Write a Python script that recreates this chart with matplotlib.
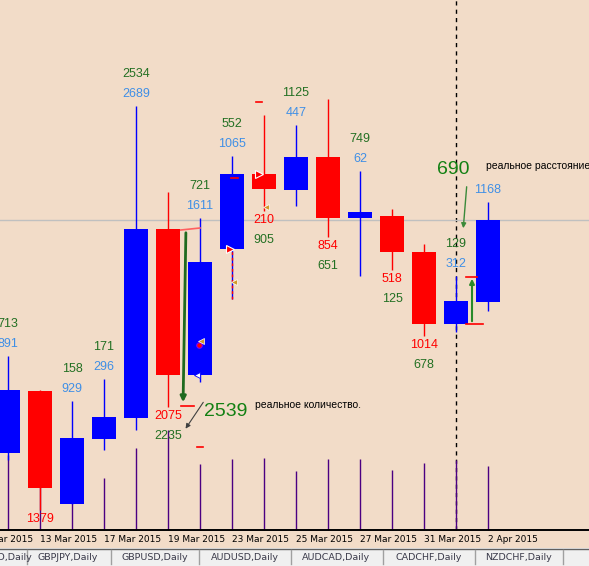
import matplotlib
matplotlib.use("Agg")
import matplotlib.pyplot as plt

# chart data (price in chart units, higher = up)
opens  = [113, 175, 62, 127, 148, 337, 191, 317, 392, 376, 409, 348, 350, 314, 242, 264]
highs  = [210, 176, 165, 187, 460, 374, 348, 410, 451, 441, 467, 395, 357, 322, 290, 364]
lows   = [106, 56, 62, 116, 136, 159, 184, 267, 355, 360, 329, 290, 296, 230, 234, 255]
closes = [176, 78, 128, 149, 337, 191, 304, 392, 377, 409, 348, 354, 314, 242, 265, 346]
volumes = [75, 63, 59, 52, 82, 100, 66, 71, 72, 59, 71, 71, 60, 67, 70, 64]

# numbers printed by the indicator
top_green = [713, None, 158, 171, 2534, None, 721, 552, None, 1125, None, 749, None, None, 129, None]
top_blue  = [891, None, 929, 296, 2689, None, 1611, 1065, None, 447, None, 62, None, None, 312, 1168]
bot_red   = [None, 1379, None, None, None, 2075, None, None, 210, None, 854, None, 518, 1014, None, None]
bot_green = [None, None, None, None, None, 2235, None, None, 905, None, 651, None, 125, 678, None, None]

tick_pos = [-1, 1, 3, 5, 7, 9, 11, 13, 15]
tick_labels = ["11 Mar 2015", "13 Mar 2015", "17 Mar 2015", "19 Mar 2015", "23 Mar 2015",
               "25 Mar 2015", "27 Mar 2015", "31 Mar 2015", "2 Apr 2015"]
tabs = ["EURUSD,Daily", "GBPJPY,Daily", "GBPUSD,Daily", "AUDUSD,Daily",
        "AUDCAD,Daily", "CADCHF,Daily", "NZDCHF,Daily"]

BG = "#F2DCC8"
GREEN_TXT = "#237023"
BLUE_TXT = "#3f8fe6"
RED = "#ff0000"
BLUE = "#0000ff"
VOL = "#4b0082"

fig = plt.figure(figsize=(5.89, 5.66), dpi=100)
fig.patch.set_facecolor(BG)

# volume on its own scale, zero sitting on the time axis, kept behind the candles
axv = fig.add_axes([0, 0, 1, 1])
axv.set_xlim(-0.25, 18.156)
axv.set_ylim(-36, 530)
axv.axis("off")

ax = fig.add_axes([0, 0, 1, 1])
ax.patch.set_visible(False)
ax.set_xlim(-0.25, 18.156)
ax.set_ylim(0, 566)
ax.axis("off")

x = list(range(len(opens)))

# grid line, vertical dashed line (behind volume), time axis
axv.vlines(14, 0, 530, color="black", lw=1, linestyles=(0, (3, 3)), zorder=1)
axv.vlines(x, 0, volumes, color=VOL, lw=1, zorder=2)
ax.axhline(346, color="#c0c0c0", lw=1, zorder=1)
ax.axhline(36, color="black", lw=1.4, zorder=6)

for i in x:
    o, h, l, c = opens[i], highs[i], lows[i], closes[i]
    col = BLUE if c >= o else RED
    ax.vlines(i, l, h, color=col, lw=1, zorder=3)
    ax.bar(i, abs(c - o), bottom=min(o, c), width=0.75, color=col, lw=0, zorder=4)

lab = dict(fontsize=9, family="Liberation Sans", ha="center", va="center", zorder=7)
for i in x:
    if top_green[i] is not None:
        ax.text(i, highs[i] + 32, str(top_green[i]), color=GREEN_TXT, **lab)
    if top_blue[i] is not None:
        ax.text(i, highs[i] + 12, str(top_blue[i]), color=BLUE_TXT, **lab)
    if bot_red[i] is not None:
        ax.text(i, lows[i] - 9, str(bot_red[i]), color=RED, **lab)
    if bot_green[i] is not None:
        ax.text(i, lows[i] - 29, str(bot_green[i]), color=GREEN_TXT, **lab)

for p, t in zip(tick_pos, tick_labels):
    ax.text(p, 26, t, fontsize=6.5, family="DejaVu Sans", ha="left", va="center", color="black")

# manual annotations drawn on the chart
ax.annotate("", xy=(5.47, 161), xytext=(5.56, 336),
            arrowprops=dict(arrowstyle="-|>", color="#1f6a1f", lw=2, mutation_scale=8), zorder=8)
ax.plot([5.4, 5.8], [160, 160], color=RED, lw=1.2, zorder=8)
ax.plot([5.4, 6.0], [336, 338], color="#ff6060", lw=1.2, zorder=8)
ax.text(6.8, 154, "2539", fontsize=14, color="#138013", family="Liberation Sans",
        ha="center", va="center", zorder=8)
ax.annotate("", xy=(5.5, 135), xytext=(6.15, 166),
            arrowprops=dict(arrowstyle="-|>", color="#404040", lw=0.8, mutation_scale=7), zorder=8)
ax.text(7.72, 161, "реальное количество.", fontsize=7.5, color="black",
        family="Liberation Sans", ha="left", va="center", zorder=8)
ax.plot([5.9, 6.1], [119, 119], color=RED, lw=1.2, zorder=8)

ax.text(13.9, 396, "690", fontsize=14, color="#138013", family="Liberation Sans",
        ha="center", va="center", zorder=8)
ax.annotate("", xy=(14.22, 335), xytext=(14.34, 382),
            arrowprops=dict(arrowstyle="-|>", color="#3a8a3a", lw=1, mutation_scale=7), zorder=8)
ax.text(14.94, 400, "реальное расстояние.", fontsize=7.5, color="black",
        family="Liberation Sans", ha="left", va="center", zorder=8)

ax.annotate("", xy=(14.5, 290), xytext=(14.5, 242),
            arrowprops=dict(arrowstyle="-|>", color="#2a8a2a", lw=1.5, mutation_scale=7), zorder=8)
ax.plot([14.3, 14.65], [289, 289], color=RED, lw=1.2, zorder=8)
ax.plot([14.3, 14.85], [242, 242], color=RED, lw=1.2, zorder=8)

# trade arrows and marks
ax.plot([6.98, 7.18], [388, 388], color=RED, lw=1.2, zorder=8)
ax.plot([7.75, 7.95], [464, 464], color=RED, lw=1.2, zorder=8)
ax.vlines(7, 267, 317, color=RED, lw=1, linestyles=(0, (2, 2)), zorder=5)
ax.plot(6.95, 317, marker=">", ms=6, color=RED, mec="white", mew=0.8, zorder=9)
ax.plot(7.85, 392, marker=">", ms=6, color=RED, mec="white", mew=0.8, zorder=9)
ax.plot(7.07, 284, marker="<", ms=5, color="#d19a2a", mec="white", mew=0.5, zorder=9)
ax.plot(8.07, 359, marker="<", ms=5, color="#d19a2a", mec="white", mew=0.5, zorder=9)
ax.plot(5.98, 221, marker="o", ms=4, color=RED, mec="#8000ff", mew=0.8, zorder=9)
ax.plot(6.04, 225, marker="<", ms=5, color="#d19a2a", mec="white", mew=0.5, zorder=9)
ax.plot(5.9, 191, marker="<", ms=5, color="white", mec=BLUE, mew=0.6, zorder=9)

# terminal tab bar
tab = fig.add_axes([0, 0, 1, 18 / 566])
tab.set_facecolor("#f0f0f0")
tab.set_xlim(0, 589)
tab.set_ylim(0, 18)
tab.set_xticks([])
tab.set_yticks([])
for s in tab.spines.values():
    s.set_visible(False)
tab.axhline(17.5, color="#606060", lw=1)
tab_x = [-35, 37, 122, 211, 302, 395, 485]
for tx, t in zip(tab_x, tabs):
    tab.text(tx, 8, t, fontsize=6.8, family="DejaVu Sans", color="#3a3a4a", ha="left", va="center")
for sx in [27, 111, 199, 291, 383, 475, 563]:
    tab.axvline(sx, 0.1, 0.9, color="#a0a0a0", lw=1)

fig.savefig("out.png", dpi=100, facecolor=BG)
